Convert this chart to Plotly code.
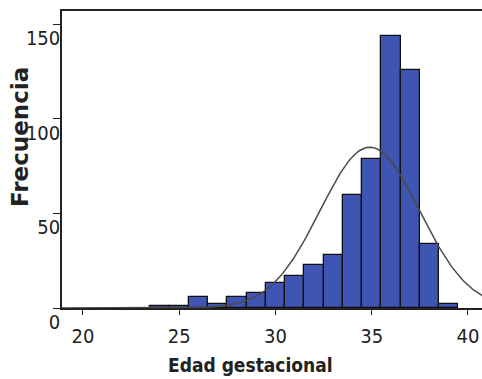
import numpy as np
import plotly.graph_objects as go

# Data (1-week bins centred on integers)
edad = [24, 25, 26, 27, 28, 29, 30, 31, 32, 33, 34, 35, 36, 37, 38, 39]
frecuencia = [1, 1, 6, 2, 6, 8, 13, 17, 23, 28, 60, 79, 144, 126, 34, 2]
x_ticks = [20, 25, 30, 35, 40]
y_ticks = [0, 50, 100, 150]
media = 34.9
desv = 2.58

n_total = sum(frecuencia)
xs = np.linspace(18.9, 40.8, 300)
ys = n_total * 1.0 / (desv * np.sqrt(2 * np.pi)) * np.exp(-0.5 * ((xs - media) / desv) ** 2)

font_narrow = "Liberation Sans Narrow, DejaVu Sans Condensed, Arial Narrow, sans-serif"

fig = go.Figure()
fig.add_trace(go.Bar(
    x=edad, y=frecuencia, width=1.0,
    marker=dict(color="#3f55b3", line=dict(color="#111111", width=1.3)),
    showlegend=False,
))
fig.add_trace(go.Scatter(
    x=xs, y=ys, mode="lines",
    line=dict(color="#4a4a4a", width=1.5),
    showlegend=False,
))

fig.update_layout(
    width=482, height=379,
    margin=dict(l=62, r=0, t=11, b=71),
    paper_bgcolor="white", plot_bgcolor="white",
    bargap=0,
    xaxis=dict(
        range=[18.91, 40.73], tickvals=x_ticks, ticktext=[str(v) for v in x_ticks],
        showgrid=False, zeroline=False,
        showline=True, linecolor="#222222", linewidth=1.5, mirror=True,
        ticks="outside", ticklen=5, tickcolor="#222222", tickwidth=1,
        tickfont=dict(family=font_narrow, size=20, color="#222222"),
        ticklabelstandoff=4,
    ),
    yaxis=dict(
        range=[0, 157.1], tickvals=y_ticks, ticktext=[str(v) for v in y_ticks],
        showgrid=False, zeroline=False,
        showline=True, linecolor="#222222", linewidth=1.5,
        ticks="outside", ticklen=7, tickcolor="#222222", tickwidth=1,
        tickfont=dict(family=font_narrow, size=20, color="#222222"),
        ticklabelshift=14, ticklabelstandoff=-11,
    ),
    annotations=[
        dict(text="<b>Frecuencia</b>", textangle=-90, x=20, y=137,
             xref="paper", yref="paper", showarrow=False,
             font=dict(family="DejaVu Sans, sans-serif", size=23, color="#222222")),
        dict(text="<b>Edad gestacional</b>", x=250, y=365,
             xref="paper", yref="paper", showarrow=False,
             font=dict(family=font_narrow, size=19, color="#222222")),
    ],
)

# convert pixel positions of annotations to paper coordinates
W, H = 482, 379
L, R, T, B = 62, 0, 11, 71
pw, ph = W - L - R, H - T - B
for a in fig.layout.annotations:
    px, py = a.x, a.y
    a.x = (px - L) / pw
    a.y = 1 - (py - T) / ph
    a.xanchor = "center"
    a.yanchor = "middle"

fig.write_html("out.html")
